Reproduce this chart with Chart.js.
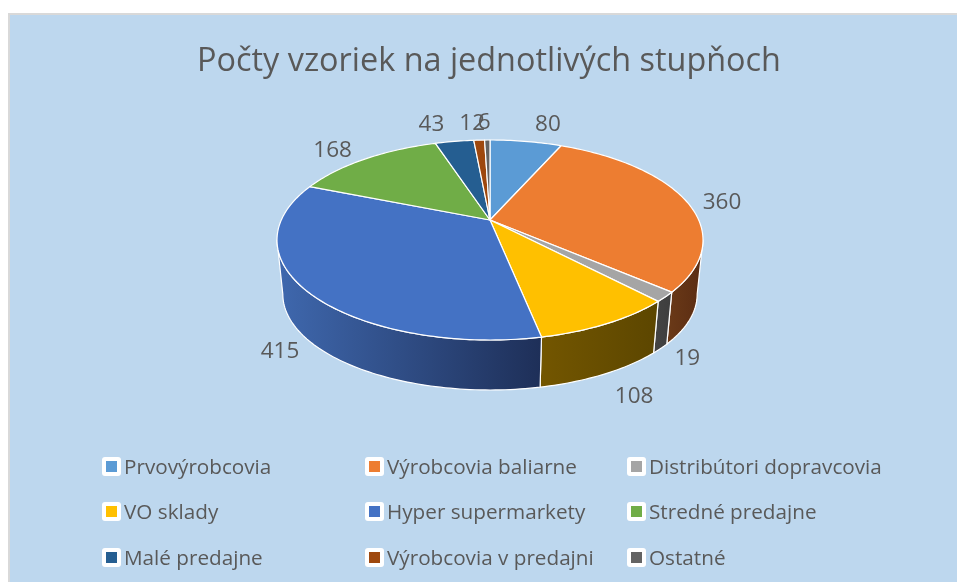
<!DOCTYPE html>
<html lang="sk">
<head>
<meta charset="utf-8">
<title>Počty vzoriek</title>
<script src="https://cdn.jsdelivr.net/npm/chart.js@4/dist/chart.umd.min.js"></script>
<style>
    html, body { margin: 0; padding: 0; background: #fff; width: 957px; height: 582px; overflow: hidden; }
    #panel {
        position: absolute; left: 8px; top: 13px; width: 960px; height: 580px;
        background: #BDD7EE; border: 2px solid #D9D9D9; box-sizing: border-box;
    }
    #char_samples { position: absolute; left: 0; top: 0; }
    #legend-container { position: absolute; left: 0; top: 0; width: 957px; height: 582px; font-family: "Open Sans", sans-serif; }
    #legend-container div.item { position: absolute; height: 20px; }
    #legend-container span.box {
        position: absolute; left: 0; top: 0; width: 19px; height: 19px; background: #fff;
        border-radius: 3px; box-sizing: border-box; padding: 4px;
    }
    #legend-container span.box i { display: block; width: 11px; height: 11px; }
    #legend-container p {
        position: absolute; left: 22px; top: -8px; margin: 0; padding: 0; white-space: nowrap;
        font-size: 20.7px; line-height: 34px; color: #595959;
    }
</style>
</head>
<body>
<div id="panel"></div>
<canvas id="char_samples" width="957" height="582"></canvas>
<div id="legend-container"></div>
<script>
const categories = [
    "Prvovýrobcovia", "Výrobcovia baliarne", "Distribútori dopravcovia",
    "VO sklady", "Hyper supermarkety", "Stredné predajne",
    "Malé predajne", "Výrobcovia v predajni", "Ostatné",
];
const sampleCounts = [80, 360, 19, 108, 415, 168, 43, 12, 6];
const sliceColors = ["#5B9BD5", "#ED7D31", "#A5A5A5", "#FFC000", "#4472C4", "#70AD47", "#255E91", "#9E480E", "#636363"];
const wallColors = [
    ["#37618a", "#2c4e70"], ["#6b3a18", "#5a2c12"], ["#444444", "#3e3e3e"],
    ["#735600", "#5c4600"], ["#3f68ae", "#1e2f58"], ["#44692b", "#37551f"],
    ["#173a5a", "#173a5a"], ["#5f2c09", "#5f2c09"], ["#3c3c3c", "#3c3c3c"],
];
// label offset from the rim of each slice
const labelOffsets = [[22, -17], [37, 3], [22, 62], [27, 73], [-26, 61], [-33, -8], [-23, -17], [-7, -17], [-3, -17]];

// perspective disc: top face and the lower edge of the wall
const topFace = { cx: 490, cy: 220, rx: 208.7, ry: 96 };
const bottomFace = { cx: 490, cy: 275, rx: 203, ry: 92 };
const tilt = 0.2;
const silhouette = Math.asin(tilt); // widest point of the disc

function project(face, angle) {
    const ux = Math.cos(angle);
    const uy = Math.sin(angle);
    const s = 1 / (1 - tilt * uy);
    return { x: face.cx + face.rx * ux * s, y: face.cy + face.ry * uy * s };
}

function samples(start, end) {
    const n = Math.max(2, Math.ceil((end - start) / 0.02));
    const list = [];
    for (let i = 0; i <= n; i++) {
        list.push(start + ((end - start) * i) / n);
    }
    return list;
}

const pie3dPlugin = {
    id: "pie3d",
    beforeDatasetDraw(chart) {
        const ctx = chart.ctx;
        const arcs = chart.getDatasetMeta(0).data;
        ctx.save();
        ctx.lineJoin = "round";
        ctx.strokeStyle = "#fff";
        ctx.lineWidth = 1.2;

        // walls of the front half
        arcs.forEach((arc, i) => {
            const from = Math.max(arc.startAngle, silhouette);
            const to = Math.min(arc.endAngle, Math.PI - silhouette);
            if (to <= from) {
                return;
            }
            const angles = samples(from, to);
            const upper = angles.map((a) => project(topFace, a));
            const lower = angles.map((a) => project(bottomFace, a));
            const xs = upper.concat(lower).map((p) => p.x);
            const grad = ctx.createLinearGradient(Math.min(...xs), 0, Math.max(...xs), 0);
            grad.addColorStop(0, wallColors[i][0]);
            grad.addColorStop(1, wallColors[i][1]);
            ctx.beginPath();
            upper.forEach((p, k) => (k ? ctx.lineTo(p.x, p.y) : ctx.moveTo(p.x, p.y)));
            lower.reverse().forEach((p) => ctx.lineTo(p.x, p.y));
            ctx.closePath();
            ctx.fillStyle = grad;
            ctx.fill();
            ctx.stroke();
        });

        // top faces
        arcs.forEach((arc, i) => {
            ctx.beginPath();
            ctx.moveTo(topFace.cx, topFace.cy);
            samples(arc.startAngle, arc.endAngle).forEach((a) => {
                const p = project(topFace, a);
                ctx.lineTo(p.x, p.y);
            });
            ctx.closePath();
            ctx.fillStyle = sliceColors[i];
            ctx.fill();
            ctx.stroke();
        });
        ctx.restore();
        return false;
    },
    afterDatasetsDraw(chart) {
        const ctx = chart.ctx;
        const arcs = chart.getDatasetMeta(0).data;
        ctx.save();
        ctx.font = '22.5px "Open Sans", sans-serif';
        ctx.fillStyle = "#595959";
        ctx.textAlign = "center";
        ctx.textBaseline = "middle";
        arcs.forEach((arc, i) => {
            const rim = project(topFace, (arc.startAngle + arc.endAngle) / 2);
            ctx.fillText(String(sampleCounts[i]), rim.x + labelOffsets[i][0], rim.y + labelOffsets[i][1]);
        });
        ctx.restore();
    },
};

const legendColumns = [102, 365, 627];
const legendRows = [457, 502, 548];

const htmlLegendPlugin = {
    id: "htmlLegend",
    afterUpdate(chart) {
        const container = document.getElementById("legend-container");
        while (container.firstChild) {
            container.firstChild.remove();
        }
        chart.options.plugins.legend.labels.generateLabels(chart).forEach((item) => {
            const row = document.createElement("div");
            row.className = "item";
            row.style.left = legendColumns[item.index % 3] + "px";
            row.style.top = legendRows[Math.floor(item.index / 3)] + "px";

            const box = document.createElement("span");
            box.className = "box";
            const swatch = document.createElement("i");
            swatch.style.background = item.fillStyle;
            box.appendChild(swatch);

            const text = document.createElement("p");
            text.textContent = item.text;

            row.appendChild(box);
            row.appendChild(text);
            container.appendChild(row);
        });
    },
};

new Chart(document.getElementById("char_samples").getContext("2d"), {
    type: "pie",
    data: {
        labels: categories,
        datasets: [{ label: "Počet vzoriek", data: sampleCounts, backgroundColor: sliceColors }],
    },
    options: {
        responsive: false,
        animation: false,
        layout: { padding: { left: 21, top: 32 } },
        plugins: {
            legend: { display: false },
            tooltip: { enabled: false },
            title: {
                display: true,
                text: "Počty vzoriek na jednotlivých stupňoch",
                color: "#595959",
                font: { family: '"Open Sans", sans-serif', size: 32.4, weight: "normal" },
            },
        },
    },
    plugins: [pie3dPlugin, htmlLegendPlugin],
});
</script>
</body>
</html>
